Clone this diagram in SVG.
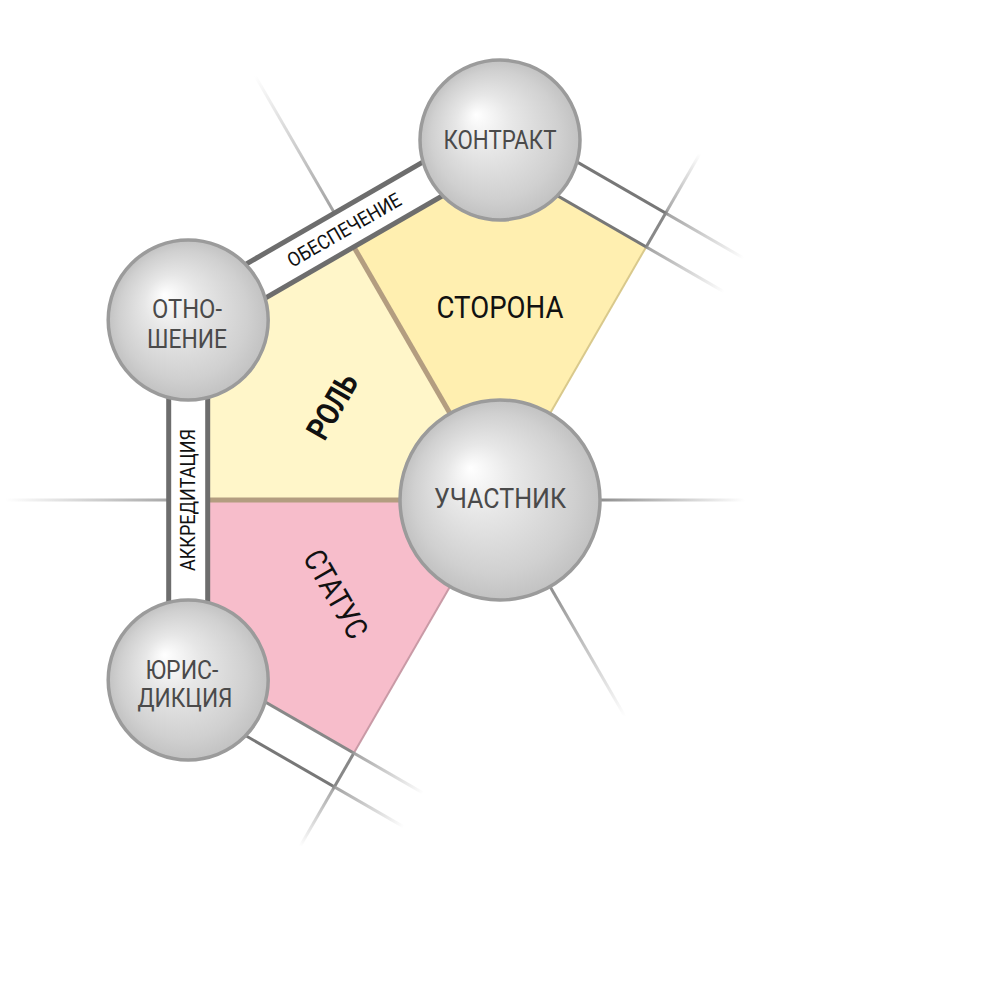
<svg xmlns="http://www.w3.org/2000/svg" width="1000" height="1000" viewBox="0 0 1000 1000">
<style>
.ball{stroke:#9b9b9b;stroke-width:3.5;fill:url(#ballg)}
.nl{font-family:Roboto,"Liberation Sans",sans-serif;fill:#4a4a4a;text-anchor:middle}
.rl{font-family:Roboto,"Liberation Sans",sans-serif;fill:#111;text-anchor:middle}
.bl{font-family:Roboto,"Liberation Sans",sans-serif;fill:#111;text-anchor:middle;font-size:20px}
.band{stroke:#6d6d6d;stroke-width:5;fill:none}
.sp{stroke-width:3;fill:none}
.tan{stroke:#b39d80;stroke-width:5;fill:none;stroke-linecap:butt}
</style>
<defs>
<radialGradient id="ballg" cx="0.5" cy="0.5" r="0.5" fx="0.35" fy="0.34">
<stop offset="0" stop-color="#ffffff"/>
<stop offset="0.35" stop-color="#e7e7e7"/>
<stop offset="0.8" stop-color="#d0d0d0"/>
<stop offset="1" stop-color="#c2c2c2"/>
</radialGradient>
<linearGradient id="g180" gradientUnits="userSpaceOnUse" x1="168.7" y1="500" x2="5" y2="500">
<stop offset="0" stop-color="#a8a8a8"/><stop offset="1" stop-color="#a8a8a8" stop-opacity="0"/>
</linearGradient>
<linearGradient id="gm120" gradientUnits="userSpaceOnUse" x1="334.4" y1="213.1" x2="255" y2="75.6">
<stop offset="0" stop-color="#a0a0a0"/><stop offset="1" stop-color="#a0a0a0" stop-opacity="0"/>
</linearGradient>
<linearGradient id="gm60" gradientUnits="userSpaceOnUse" x1="646.15" y1="246.9" x2="700" y2="153.6">
<stop offset="0" stop-color="#888"/><stop offset="0.36" stop-color="#888"/><stop offset="0.4" stop-color="#aaa"/><stop offset="1" stop-color="#aaa" stop-opacity="0"/>
</linearGradient>
<linearGradient id="g0" gradientUnits="userSpaceOnUse" x1="600" y1="500" x2="745" y2="500">
<stop offset="0" stop-color="#8f8f8f"/><stop offset="1" stop-color="#8f8f8f" stop-opacity="0"/>
</linearGradient>
<linearGradient id="g60" gradientUnits="userSpaceOnUse" x1="550" y1="586.6" x2="625" y2="716.5">
<stop offset="0" stop-color="#8f8f8f"/><stop offset="1" stop-color="#8f8f8f" stop-opacity="0"/>
</linearGradient>
<linearGradient id="g120" gradientUnits="userSpaceOnUse" x1="353.85" y1="753.1" x2="300" y2="846.4">
<stop offset="0" stop-color="#888"/><stop offset="0.36" stop-color="#888"/><stop offset="0.4" stop-color="#aaa"/><stop offset="1" stop-color="#aaa" stop-opacity="0"/>
</linearGradient>
<linearGradient id="grb1" gradientUnits="userSpaceOnUse" x1="509.75" y1="123.1" x2="743.6" y2="258.1">
<stop offset="0" stop-color="#777"/><stop offset="0.66" stop-color="#777"/><stop offset="0.68" stop-color="#a5a5a5"/><stop offset="1" stop-color="#a5a5a5" stop-opacity="0"/>
</linearGradient>
<linearGradient id="grb2" gradientUnits="userSpaceOnUse" x1="490.25" y1="156.9" x2="724.1" y2="291.9">
<stop offset="0" stop-color="#777"/><stop offset="0.66" stop-color="#777"/><stop offset="0.68" stop-color="#a5a5a5"/><stop offset="1" stop-color="#a5a5a5" stop-opacity="0"/>
</linearGradient>
<linearGradient id="gbb1" gradientUnits="userSpaceOnUse" x1="178.5" y1="696.9" x2="403.7" y2="826.9">
<stop offset="0" stop-color="#777"/><stop offset="0.68" stop-color="#777"/><stop offset="0.7" stop-color="#a5a5a5"/><stop offset="1" stop-color="#a5a5a5" stop-opacity="0"/>
</linearGradient>
<linearGradient id="gbb2" gradientUnits="userSpaceOnUse" x1="198" y1="663.1" x2="423.2" y2="793.1">
<stop offset="0" stop-color="#888"/><stop offset="0.68" stop-color="#888"/><stop offset="0.7" stop-color="#a5a5a5"/><stop offset="1" stop-color="#a5a5a5" stop-opacity="0"/>
</linearGradient>
</defs>

<g id="spokes">
<line class="sp" x1="168.7" y1="500" x2="5" y2="500" stroke="url(#g180)"/>
<line class="sp" x1="334.4" y1="213.1" x2="255" y2="75.6" stroke="url(#gm120)"/>
<line class="sp" x1="646.15" y1="246.9" x2="700" y2="153.6" stroke="url(#gm60)"/>
<line class="sp" x1="600" y1="500" x2="745" y2="500" stroke="url(#g0)"/>
<line class="sp" x1="550" y1="586.6" x2="625" y2="716.5" stroke="url(#g60)"/>
<line class="sp" x1="353.85" y1="753.1" x2="300" y2="846.4" stroke="url(#g120)"/>
</g>

<g id="regions">
<g id="rol">
<polygon points="500,500 207.7,500 207.7,331.25 353.85,246.9" fill="#fff6c9"/>
</g>
<g id="storona">
<polygon points="500,500 353.85,246.9 500,162.5 646.15,246.9" fill="#ffefb0"/>
</g>
<g id="status">
<polygon points="500,500 207.7,500 207.7,668.75 353.85,753.1" fill="#f7bdcb"/>
</g>
<line x1="500" y1="500" x2="646.15" y2="246.9" stroke="#d9c98c" stroke-width="2"/>
<line x1="500" y1="500" x2="353.85" y2="753.1" stroke="#c99aa6" stroke-width="2"/>
<line class="tan" x1="500" y1="500" x2="207.7" y2="500"/>
<line class="tan" x1="500" y1="500" x2="353.85" y2="246.9"/>
</g>

<g id="connectors">
<g id="obespechenie">
<polygon points="178.5,303.1 490.25,123.1 509.75,156.9 197.98,336.9" fill="#fff"/>
<line class="band" x1="178.5" y1="303.1" x2="490.25" y2="123.1"/>
<line class="band" x1="197.98" y1="336.9" x2="509.75" y2="156.9"/>
<text class="bl" transform="translate(344.1,230) rotate(-30)" x="0" y="7" textLength="128" lengthAdjust="spacingAndGlyphs">ОБЕСПЕЧЕНИЕ</text>
</g>
<g id="akkreditaciya">
<rect x="168.7" y="320" width="39" height="360" fill="#fff"/>
<line class="band" x1="168.7" y1="320" x2="168.7" y2="680"/>
<line class="band" x1="207.7" y1="320" x2="207.7" y2="680"/>
<text class="bl" transform="translate(188.2,500) rotate(-90)" x="0" y="7" textLength="142" lengthAdjust="spacingAndGlyphs">АККРЕДИТАЦИЯ</text>
</g>
<g id="kontrakt-right">
<line class="sp" x1="509.75" y1="123.1" x2="743.6" y2="258.1" stroke="url(#grb1)"/>
<line class="sp" x1="490.25" y1="156.9" x2="724.1" y2="291.9" stroke="url(#grb2)"/>
</g>
<g id="yuris-bottom">
<line class="sp" x1="178.5" y1="696.9" x2="403.7" y2="826.9" stroke="url(#gbb1)"/>
<line class="sp" x1="198" y1="663.1" x2="423.2" y2="793.1" stroke="url(#gbb2)"/>
</g>
</g>

<g id="node-kontrakt">
<circle class="ball" cx="500" cy="140" r="80"/>
<text class="nl" x="500" y="149" font-size="25" textLength="113" lengthAdjust="spacingAndGlyphs">КОНТРАКТ</text>
</g>
<g id="node-otnoshenie">
<circle class="ball" cx="188.2" cy="320" r="80"/>
<text class="nl" x="187" y="318" font-size="26" textLength="70" lengthAdjust="spacingAndGlyphs">ОТНО-</text>
<text class="nl" x="187" y="348" font-size="26" textLength="80" lengthAdjust="spacingAndGlyphs">ШЕНИЕ</text>
</g>
<g id="node-yurisdikciya">
<circle class="ball" cx="188.2" cy="680" r="80"/>
<text class="nl" x="182" y="679" font-size="26" textLength="73" lengthAdjust="spacingAndGlyphs">ЮРИС-</text>
<text class="nl" x="185" y="707" font-size="26" textLength="95" lengthAdjust="spacingAndGlyphs">ДИКЦИЯ</text>
</g>
<g id="node-uchastnik">
<circle class="ball" cx="500" cy="500" r="100"/>
<text class="nl" x="500" y="508" font-size="28" textLength="132" lengthAdjust="spacingAndGlyphs">УЧАСТНИК</text>
</g>

<g id="region-labels">
<text class="rl" x="500" y="318" font-size="32" textLength="127" lengthAdjust="spacingAndGlyphs">СТОРОНА</text>
<text class="rl" transform="translate(332,406) rotate(-60)" x="0" y="11.5" font-size="32" font-weight="bold" textLength="70" lengthAdjust="spacingAndGlyphs">РОЛЬ</text>
<text class="rl" transform="translate(336,594) rotate(60)" x="0" y="11" font-size="31" textLength="97" lengthAdjust="spacingAndGlyphs">СТАТУС</text>
</g>
</svg>
